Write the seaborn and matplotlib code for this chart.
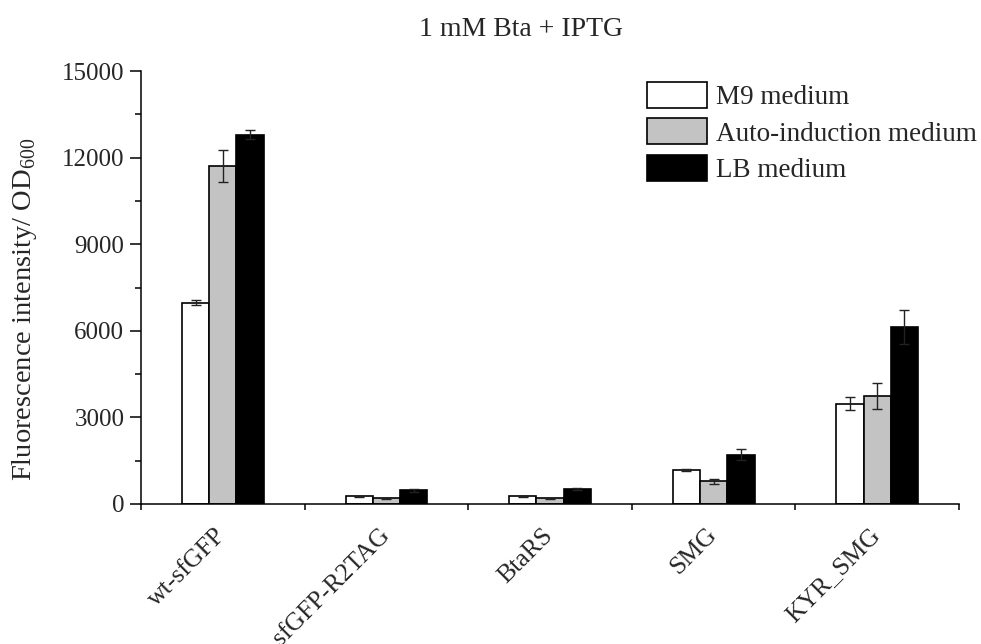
import matplotlib
matplotlib.use("Agg")
import matplotlib.pyplot as plt
from matplotlib.ticker import MultipleLocator
from matplotlib.transforms import ScaledTranslation, blended_transform_factory
import seaborn as sns
import pandas as pd

categories = ["wt-sfGFP", "sfGFP-R2TAG", "BtaRS", "SMG", "KYR_SMG"]
media = ["M9 medium", "Auto-induction medium", "LB medium"]
m9_values = [6970, 270, 270, 1170, 3475]
auto_values = [11700, 200, 200, 790, 3735]
lb_values = [12800, 480, 510, 1710, 6140]
m9_err = [80, 20, 20, 30, 235]
auto_err = [560, 15, 15, 85, 460]
lb_err = [140, 50, 30, 190, 590]
title = "1 mM Bta + IPTG"
ylabel = "Fluorescence intensity/ OD$_{600}$"
colors = ["#ffffff", "#c3c3c3", "#000000"]

rows = []
for med, vals, errs in zip(media, [m9_values, auto_values, lb_values], [m9_err, auto_err, lb_err]):
    for cat, v, e in zip(categories, vals, errs):
        rows.append({"cat": cat, "medium": med, "value": v, "err": e})
df = pd.DataFrame(rows)

sns.set_theme(style="ticks")
plt.rcParams["font.family"] = ["Liberation Serif", "DejaVu Serif"]
plt.rcParams["mathtext.fontset"] = "custom"
plt.rcParams["mathtext.rm"] = "Liberation Serif"

fig = plt.figure(figsize=(9.81, 6.44), dpi=100)
ax = fig.add_axes([141 / 981, 1 - 504 / 644, 818 / 981, 433 / 644])

sns.barplot(data=df, x="cat", y="value", hue="medium", order=categories, hue_order=media,
            palette=colors, width=0.5, errorbar=None, edgecolor="black", linewidth=1.2,
            saturation=1, ax=ax)

for med, cont in zip(media, ax.containers):
    errs = df[df["medium"] == med].set_index("cat").loc[categories, "err"].values
    xs = [p.get_x() + p.get_width() / 2 for p in cont.patches]
    hs = [p.get_height() for p in cont.patches]
    ax.errorbar(xs, hs, yerr=errs, fmt="none", ecolor="#222222", elinewidth=1.0,
                capsize=3.8, capthick=1.0, zorder=3)

ax.set_ylim(0, 15000)
ax.set_xlim(-0.5, 4.5)
ax.yaxis.set_major_locator(MultipleLocator(3000))
ax.yaxis.set_minor_locator(MultipleLocator(1500))
ax.set_xticks([i - 0.5 for i in range(len(categories) + 1)])
ax.set_xticklabels([])

# category labels, rotated, anchored under each group centre
label_tr = blended_transform_factory(ax.transData, ax.transAxes) + \
    ScaledTranslation(-8 / 100, -20 / 100, fig.dpi_scale_trans)
for i, cat in enumerate(categories):
    ax.text(i, 0, cat, transform=label_tr, rotation=45, ha="right", va="top",
            rotation_mode="anchor", fontsize=18.5, clip_on=False)

ax.tick_params(axis="x", which="major", direction="out", length=4, width=1.1, color="black")
ax.tick_params(axis="y", which="major", direction="out", length=8, width=1.1, labelsize=18,
               color="black", pad=4)
ax.tick_params(axis="y", which="minor", direction="out", length=4, width=1.1, color="black")

for s in ["top", "right"]:
    ax.spines[s].set_visible(False)
for s in ["left", "bottom"]:
    ax.spines[s].set_linewidth(1.1)
    ax.spines[s].set_color("black")

ax.set_xlabel("")
ax.set_ylabel(ylabel, fontsize=20.5)
ax.yaxis.set_label_coords(-0.125, 0.45)

leg = ax.legend(loc="upper left", bbox_to_anchor=(647 / 981, 1 - 82 / 644),
                bbox_transform=fig.transFigure, frameon=False, fontsize=19.5,
                handlelength=2.2, handleheight=1.1, handletextpad=0.35,
                labelspacing=0.3, borderpad=0, borderaxespad=0)

fig.text(521 / 981, 1 - 30 / 644, title, ha="center", va="center", fontsize=20)

fig.savefig("out.png", dpi=100, facecolor="white")
